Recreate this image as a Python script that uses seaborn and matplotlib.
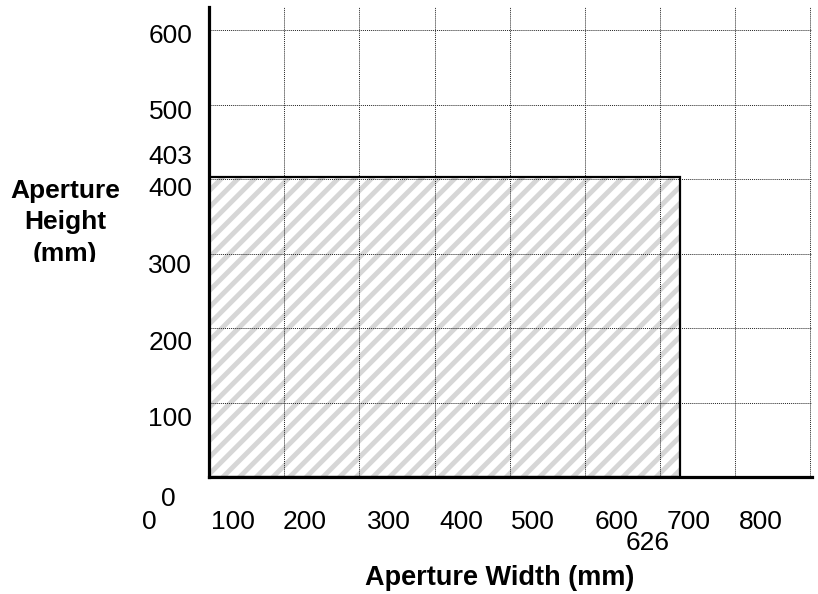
import numpy as np
import pandas as pd
import seaborn as sns
import matplotlib.pyplot as plt
from matplotlib.transforms import ScaledTranslation, Bbox, TransformedBbox

# aperture envelope (mm)
aperture_width = 626
aperture_height = 403

x_ticks = [0, 100, 200, 300, 400, 500, 600, 700, 800]
y_ticks = [0, 100, 200, 300, 400, 500, 600]
x_tick_labels = [str(v) for v in x_ticks]
y_tick_labels = [str(v) for v in y_ticks]

# label nudges (pixels) so the labels sit where the drawing puts them
x_label_shift = [-60, -51, -55, -46, -48, -52, -44, -47, -50]
y_label_shift = [(-17, -20), (0, -14), (0, -12), (0, -10), (0, -7), (0, -5), (0, -3)]

sns.set_theme(style="white")
plt.rcParams['font.family'] = ['Liberation Sans', 'DejaVu Sans']
plt.rcParams['hatch.linewidth'] = 3.5
plt.rcParams['text.color'] = 'black'
plt.rcParams['axes.labelcolor'] = 'black'

fig = plt.figure(figsize=(8.18, 5.94), dpi=100)
ax = fig.add_axes([209 / 818, 117 / 594, 603 / 818, 470 / 594])

df = pd.DataFrame({"width": [aperture_width], "height": [aperture_height]})

# hatched area, then the black outline on top
ax.bar(0, df["height"], width=df["width"], align="edge", facecolor="white",
       edgecolor="#d6d6d6", hatch="//", linewidth=0, zorder=1)
ax.bar(0, df["height"], width=df["width"], align="edge", facecolor="none",
       edgecolor="black", linewidth=1.6, zorder=3)

ax.set_xlim(0, 802)
ax.set_ylim(0, 631)
ax.set_xticks(x_ticks)
ax.set_xticklabels(x_tick_labels)
ax.set_yticks(y_ticks)
ax.set_yticklabels(y_tick_labels)
ax.set_xticks([aperture_width], minor=True)
ax.set_xticklabels([str(aperture_width)], minor=True)
ax.set_yticks([aperture_height], minor=True)
ax.set_yticklabels([str(aperture_height)], minor=True)

ax.grid(True, which="major", linestyle=(0, (1, 1)), color="#222222", linewidth=0.7, zorder=2)
ax.set_axisbelow(False)

ax.tick_params(axis="both", which="both", length=0, labelsize=19, colors="black")
ax.tick_params(axis="x", which="major", pad=24)
ax.tick_params(axis="x", which="minor", pad=39)
ax.tick_params(axis="y", which="both", pad=12)

for spine in ["top", "right"]:
    ax.spines[spine].set_visible(False)
for spine in ["left", "bottom"]:
    ax.spines[spine].set_linewidth(2.3)
    ax.spines[spine].set_color("black")
    ax.spines[spine].set_zorder(4)

for lab, dx in zip(ax.get_xticklabels(), x_label_shift):
    lab.set_transform(lab.get_transform() + ScaledTranslation(dx / 100, 0, fig.dpi_scale_trans))
for lab, (dx, dy) in zip(ax.get_yticklabels(), y_label_shift):
    lab.set_transform(lab.get_transform() + ScaledTranslation(dx / 100, dy / 100, fig.dpi_scale_trans))
for lab in ax.get_xticklabels(minor=True):
    lab.set_transform(lab.get_transform() + ScaledTranslation(-32 / 100, 0, fig.dpi_scale_trans))
for lab in ax.get_yticklabels(minor=True):
    lab.set_transform(lab.get_transform() + ScaledTranslation(0, 22 / 100, fig.dpi_scale_trans))

ax.set_xlabel("Aperture Width (mm)", fontsize=19.5, fontweight="bold", color="black")
ax.xaxis.set_label_coords(0.482, -0.187)
ax.set_ylabel("Aperture\nHeight\n(mm)", fontsize=19, fontweight="bold", color="black",
              rotation=0, ha="center", va="center", linespacing=1.4)
ax.yaxis.set_label_coords(-0.239, 0.542)
ylab = ax.yaxis.label
ylab.set_clip_box(TransformedBbox(Bbox([[0, (594 - 262) / 594], [1, 1]]), fig.transFigure))
ylab.set_clip_on(True)

fig.savefig("out.png", dpi=100)
